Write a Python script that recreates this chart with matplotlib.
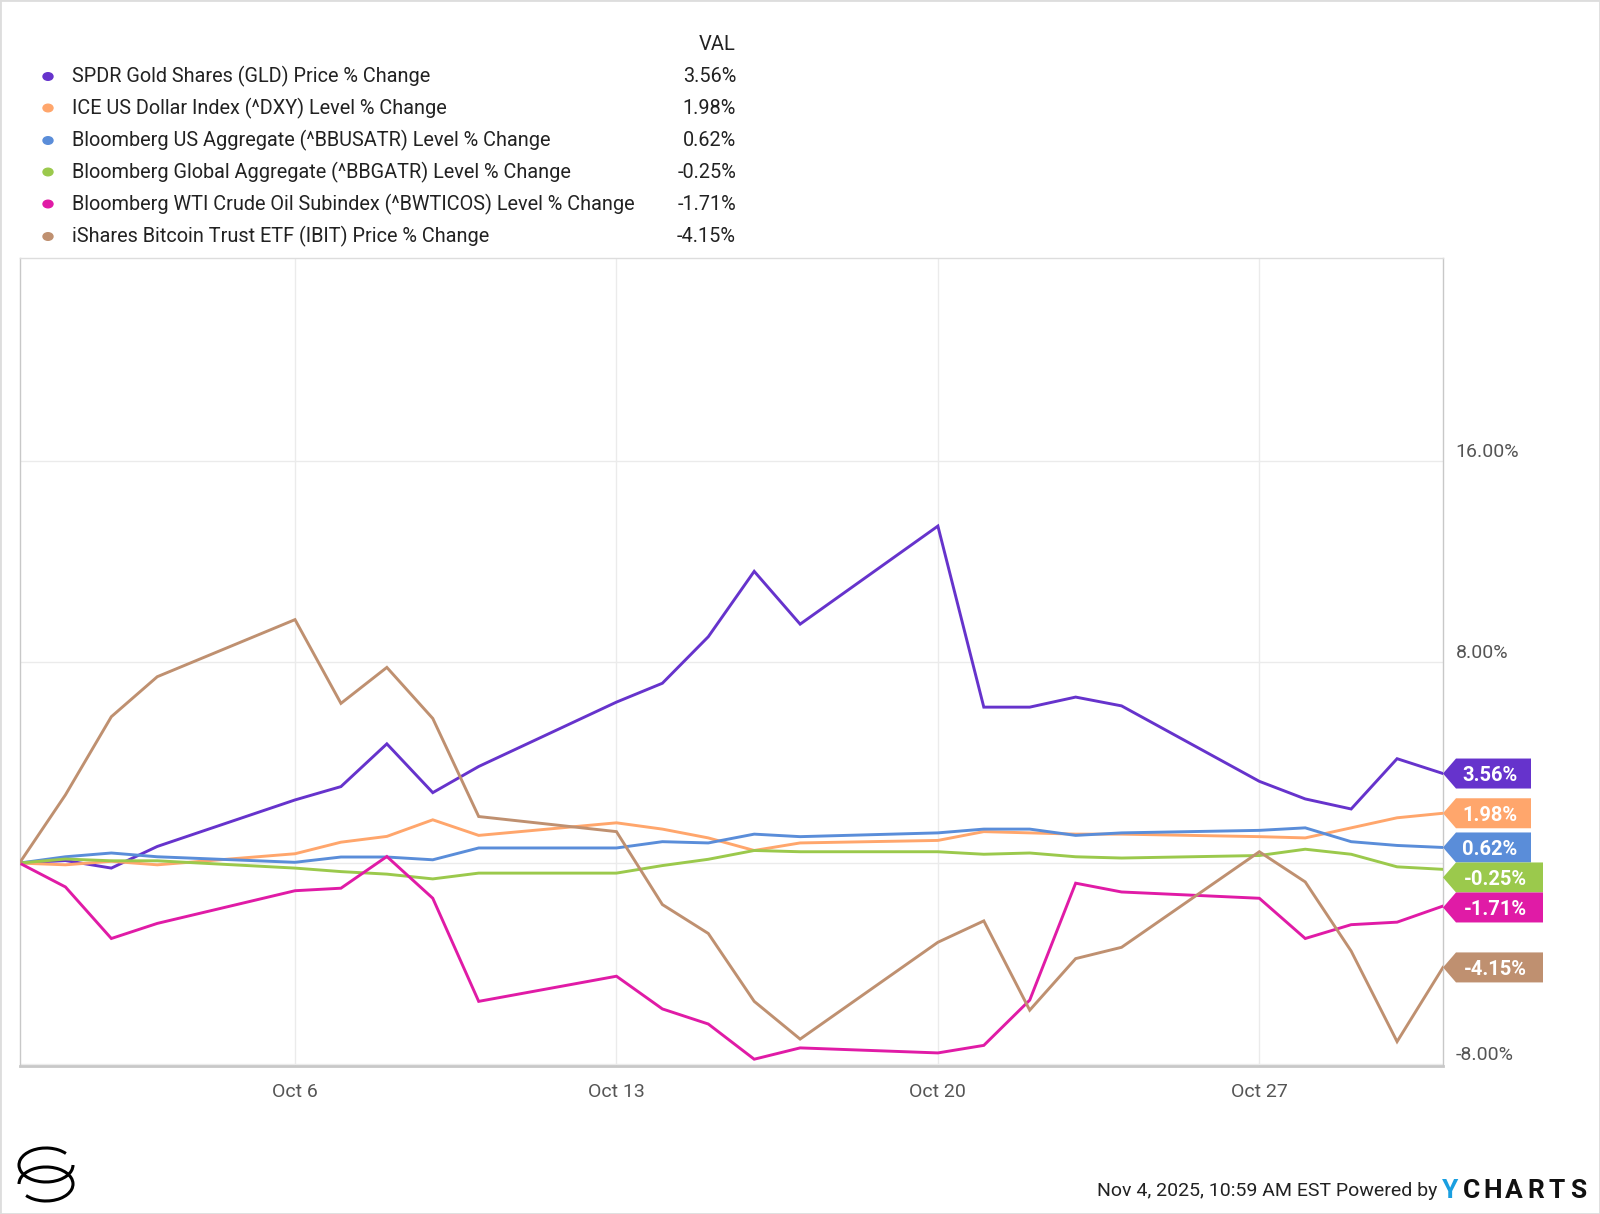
import numpy as np
import pandas as pd
import matplotlib
matplotlib.use("Agg")
import matplotlib.pyplot as plt
import matplotlib.dates as mdates
from matplotlib.patches import Polygon, Arc, Rectangle
from matplotlib import font_manager

# pick a narrow font if there is one
installed = {f.name for f in font_manager.fontManager.ttflist}
font = "Liberation Sans Narrow" if "Liberation Sans Narrow" in installed else "Roboto"
plt.rcParams["font.family"] = [font, "DejaVu Sans"]

dates = pd.to_datetime(["2025-09-30", "2025-10-01", "2025-10-02", "2025-10-03",
                        "2025-10-06", "2025-10-07", "2025-10-08", "2025-10-09", "2025-10-10",
                        "2025-10-13", "2025-10-14", "2025-10-15", "2025-10-16", "2025-10-17",
                        "2025-10-20", "2025-10-21", "2025-10-22", "2025-10-23", "2025-10-24",
                        "2025-10-27", "2025-10-28", "2025-10-29", "2025-10-30", "2025-10-31"])

gld   = [0, 0.1, -0.2, 0.66, 2.51, 3.04, 4.74, 2.80, 3.84, 6.4, 7.15, 9.0, 11.6, 9.5,
         13.4, 6.2, 6.2, 6.6, 6.25, 3.25, 2.55, 2.15, 4.15, 3.56]
dxy   = [0, -0.07, 0.07, -0.07, 0.37, 0.83, 1.06, 1.72, 1.10, 1.6, 1.35, 1.0, 0.5, 0.8,
         0.9, 1.25, 1.2, 1.15, 1.15, 1.05, 1.0, 1.4, 1.8, 1.98]
usagg = [0, 0.25, 0.4, 0.25, 0.03, 0.24, 0.24, 0.13, 0.6, 0.6, 0.85, 0.8, 1.15, 1.05,
         1.2, 1.35, 1.35, 1.1, 1.2, 1.3, 1.4, 0.85, 0.7, 0.62]
glagg = [0, 0.16, 0.09, 0.09, -0.2, -0.34, -0.44, -0.63, -0.4, -0.4, -0.1, 0.15, 0.5, 0.45,
         0.45, 0.35, 0.4, 0.25, 0.2, 0.3, 0.55, 0.35, -0.15, -0.25]
crude = [0, -0.95, -3.0, -2.4, -1.1, -1.0, 0.26, -1.4, -5.5, -4.5, -5.8, -6.4, -7.8, -7.35,
         -7.55, -7.25, -5.45, -0.8, -1.15, -1.4, -3.0, -2.45, -2.35, -1.71]
ibit  = [0, 2.71, 5.82, 7.41, 9.68, 6.35, 7.78, 5.75, 1.85, 1.25, -1.65, -2.8, -5.5, -7.0,
         -3.15, -2.3, -5.85, -3.8, -3.35, 0.45, -0.75, -3.5, -7.1, -4.15]

series = [gld, dxy, usagg, glagg, crude, ibit]
names  = ["SPDR Gold Shares (GLD) Price % Change",
          "ICE US Dollar Index (^DXY) Level % Change",
          "Bloomberg US Aggregate (^BBUSATR) Level % Change",
          "Bloomberg Global Aggregate (^BBGATR) Level % Change",
          "Bloomberg WTI Crude Oil Subindex (^BWTICOS) Level % Change",
          "iShares Bitcoin Trust ETF (IBIT) Price % Change"]
colors = ["#6633cc", "#ffa66c", "#5a8dd9", "#9bc94c", "#e01ba6", "#bf9070"]
xlabels = ["Oct 6", "Oct 13", "Oct 20", "Oct 27"]

W, H = 1600, 1214
fig = plt.figure(figsize=(W / 100, H / 100), dpi=100)
fig.patches.append(Rectangle((0, 0), 1, 1, transform=fig.transFigure, fill=False,
                             ec="#dddddd", lw=2))

ax = fig.add_axes([19.5 / W, 1 - 1066 / H, 1423.5 / W, 808 / H])
for s, c in zip(series, colors):
    ax.plot(dates, s, color=c, lw=2.1, solid_joinstyle="miter", zorder=3)

ax.set_xlim(pd.Timestamp("2025-09-30"), pd.Timestamp("2025-10-31"))
ax.set_ylim(-8.07, 24.06)
ticks_x = [pd.Timestamp("2025-10-%02d" % d) for d in (6, 13, 20, 27)]
ax.set_xticks(ticks_x)
ax.set_xticklabels(xlabels)
ax.set_yticks([-8, 0, 8, 16])
ax.set_yticklabels(["-8.00%", "", "8.00%", "16.00%"])
ax.yaxis.tick_right()
for lab in ax.get_yticklabels():
    lab.set_va("bottom")
ax.tick_params(axis="y", length=0, pad=9, labelsize=14, labelcolor="#555555")
ax.tick_params(axis="x", length=0, pad=12, labelsize=14, labelcolor="#555555")
ax.grid(True, color="#ebebeb", lw=1, zorder=0)
for sp in ax.spines.values():
    sp.set_color("#dddddd")
    sp.set_linewidth(1)
ax.spines["left"].set_color("#c8c8c8")
ax.spines["right"].set_color("#c8c8c8")
ax.spines["bottom"].set_color("#c8c8c8")
ax.spines["bottom"].set_linewidth(2)

# value tags on the right edge, pushed apart when they collide
ypx = 808 / (24.06 + 8.07)          # px per percent
h = 30 / ypx
tip = 13 / 1423.5
order = sorted(range(len(series)), key=lambda i: -series[i][-1])
prev = None
for i in order:
    v = series[i][-1]
    y = v if prev is None else min(v, prev - h)
    prev = y
    txt = "%.2f%%" % v
    w = (88 if v >= 0 else 100) / 1423.5
    pts = [(1, y), (1 + tip, y + h / 2), (1 + w, y + h / 2),
           (1 + w, y - h / 2), (1 + tip, y - h / 2)]
    ax.add_patch(Polygon(pts, closed=True, fc=colors[i], ec="none",
                         transform=ax.get_yaxis_transform(), clip_on=False, zorder=5))
    ax.text(1 + w / 2 + 0.002, y, txt, transform=ax.get_yaxis_transform(), ha="center",
            va="center_baseline", color="white", fontsize=14.5, fontweight="bold",
            family=["Roboto", "DejaVu Sans"], zorder=6, clip_on=False)

# legend block
rows_y = [76.5, 108, 140.5, 172, 204, 236.5]
fig.text(736 / W, 1 - 45 / H, "VAL", ha="right", va="center", fontsize=14.5, color="#222222")
for i, ry in enumerate(rows_y):
    fig.patches.append(plt.Circle((48 / W, 1 - ry / H), 5 / W, transform=fig.transFigure,
                                  color=colors[i]))
    fig.text(72 / W, 1 - ry / H, names[i], ha="left", va="center", fontsize=14.3,
             color="#222222")
    fig.text(736 / W, 1 - ry / H, "%.2f%%" % series[i][-1], ha="right", va="center",
             fontsize=14.3, color="#222222")

# footer
fig.text(1437 / W, 1 - 1191 / H, "Nov 4, 2025, 10:59 AM EST Powered by", ha="right",
         va="center", fontsize=14, color="#222222")
fig.text(1442 / W, 1 - 1191 / H, "Y", ha="left", va="center", fontsize=19,
         fontweight="bold", color="#1a9fe0", family=["Roboto", "DejaVu Sans"])
for k, ch in enumerate("CHARTS"):
    fig.text((1471 + k * 21.5) / W, 1 - 1191 / H, ch, ha="center", va="center", fontsize=19,
             fontweight="bold", color="#111111", family=["Roboto", "DejaVu Sans"])

# logo
lax = fig.add_axes([0, 0, 100 / W, 100 / H])
lax.set_xlim(0, 100)
lax.set_ylim(1214, 1114)
lax.axis("off")
lax.add_patch(Arc((46, 1165), 54, 34, theta1=0, theta2=330, color="black", lw=2.2))
lax.add_patch(Arc((46, 1184), 54, 34, theta1=180, theta2=150, color="black", lw=2.2))

fig.savefig("out.png", dpi=100)
